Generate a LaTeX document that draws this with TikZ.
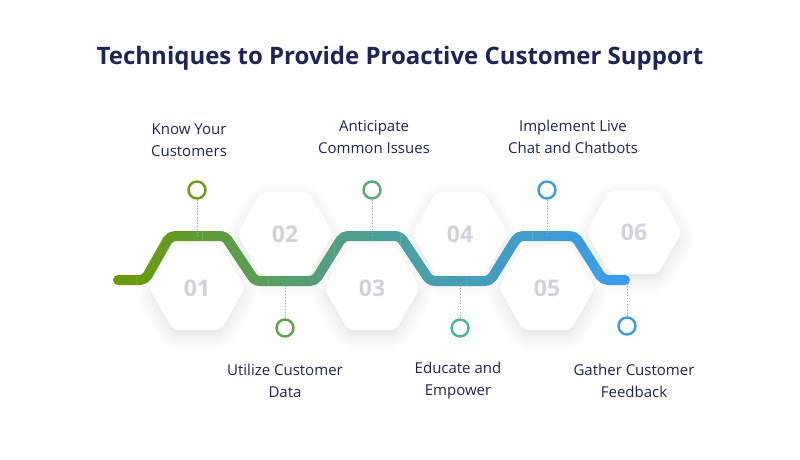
\documentclass[tikz,border=0pt]{standalone}
\usepackage{fontspec}
\setmainfont{Open Sans}
\usetikzlibrary{shadows.blur}
\definecolor{navy}{HTML}{1B2557}
\definecolor{numgray}{HTML}{D0D3DE}
\definecolor{wave1}{HTML}{6B9A05}
\definecolor{wave2}{HTML}{4C9F98}
\definecolor{wave3}{HTML}{3A9BF0}
\definecolor{dot1}{HTML}{6E9A14}
\definecolor{dot2}{HTML}{5FA048}
\definecolor{dot3}{HTML}{55AA70}
\definecolor{dot4}{HTML}{4DB890}
\definecolor{dot5}{HTML}{3A9BEB}
\definecolor{dot6}{HTML}{3A9BEB}
\tikzset{
  hexa/.style={fill=white, rounded corners=6pt, blur shadow={shadow blur steps=10, shadow xshift=0pt, shadow yshift=-6pt, shadow opacity=12, shadow blur radius=14pt}},
  num/.style={font=\bfseries\fontsize{23}{23}\selectfont, text=numgray},
  ring/.style={circle, draw=#1, line width=2.4pt, fill=white, minimum size=17pt, inner sep=0pt},
  label/.style={align=center, text=navy, font=\fontsize{15}{22}\selectfont},
  tick/.style={draw=gray!70, dotted, line width=0.9pt}
}
\def\wave{(118,280) -- (145,280) -- (170,236) -- (225,236) -- (255,281) -- (315,281) -- (343,236) -- (400,236) -- (430,281) -- (490,281) -- (518,236) -- (575,236) -- (603,280) -- (625,280)}
\begin{document}
\begin{tikzpicture}[x=1pt,y=-1pt]
  \useasboundingbox (0,0) rectangle (800,460);
  % Title
  \node[text=navy, font=\bfseries\fontsize{24}{28}\selectfont] (title) at (400,58) {Techniques to Provide Proactive Customer Support};

  % Hexagons
  \foreach \cx/\cy/\n in {197/288/01, 285/234/02, 372/288/03, 460/234/04, 547/288/05, 634/232/06}{
    \path[hexa] (\cx-48,\cy) -- (\cx-24,\cy-42) -- (\cx+24,\cy-42) -- (\cx+48,\cy) -- (\cx+24,\cy+42) -- (\cx-24,\cy+42) -- cycle;
    \node[num] (h\n) at (\cx,\cy) {\n};
  }

  % Wave with gradient
  \foreach \i in {0,...,39}{
    \pgfmathsetmacro{\xa}{110+\i*13.2}
    \pgfmathsetmacro{\xb}{\xa+13.4}
    \pgfmathsetmacro{\t}{\i/39}
    \pgfmathparse{\t<0.5 ? 200*\t : 200*(\t-0.5)}\let\p\pgfmathresult
    \ifdim\t pt<0.5pt
      \colorlet{seg}{wave2!\p!wave1}
    \else
      \colorlet{seg}{wave3!\p!wave2}
    \fi
    \begin{scope}
      \clip (\xa,0) rectangle (\xb,460);
      \draw[seg, line width=10pt, rounded corners=5pt, line cap=round] \wave;
    \end{scope}
  }

  % Anchor points on the wave
  \coordinate (w1) at (197,236);
  \coordinate (w2) at (285,281);
  \coordinate (w3) at (372,236);
  \coordinate (w4) at (460,281);
  \coordinate (w5) at (547,236);
  \coordinate (w6) at (627,280);

  % Rings
  \node[ring=dot1] (c1) at (197,190) {};
  \node[ring=dot2] (c2) at (285,328) {};
  \node[ring=dot3] (c3) at (372,190) {};
  \node[ring=dot4] (c4) at (460,328) {};
  \node[ring=dot5] (c5) at (547,190) {};
  \node[ring=dot6] (c6) at (627,326) {};
  \foreach \k in {1,...,6}{
    \draw[tick] (c\k) -- (w\k);
  }

  % Labels
  \node[label] (t1) at (189,140) {Know Your\\Customers};
  \node[label] (t2) at (285,381) {Utilize Customer\\Data};
  \node[label] (t3) at (374,137) {Anticipate\\Common Issues};
  \node[label] (t4) at (458,381) {Educate and\\Empower};
  \node[label] (t5) at (573,137) {Implement Live\\Chat and Chatbots};
  \node[label] (t6) at (634,381) {Gather Customer\\Feedback};
\end{tikzpicture}
\end{document}
